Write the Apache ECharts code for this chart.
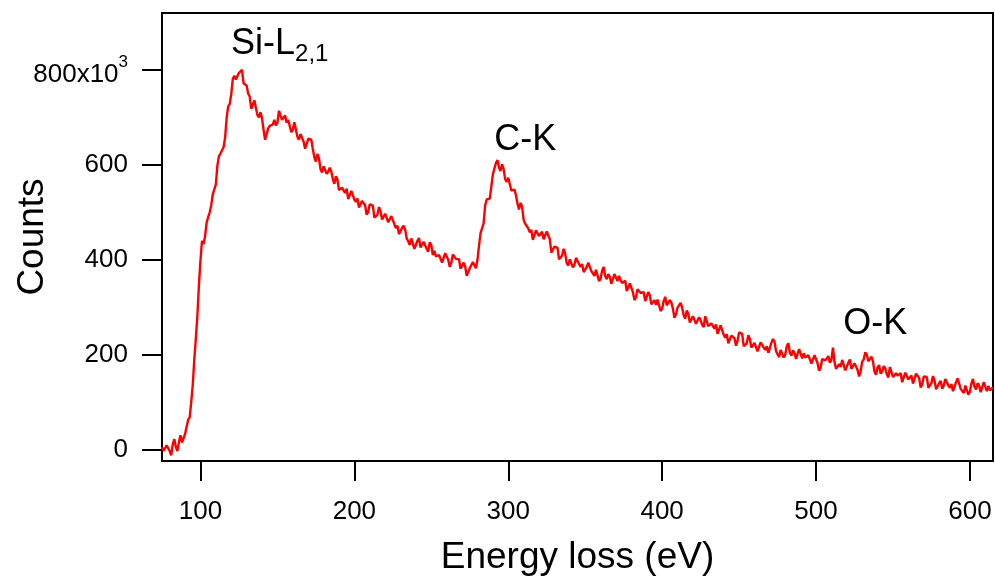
<!DOCTYPE html>
<html>
<head>
<meta charset="utf-8">
<script src="https://cdn.jsdelivr.net/npm/echarts@6/dist/echarts.min.js"></script>
<style>
html,body{margin:0;padding:0;background:#fff;}
#chart{width:995px;height:580px;}
</style>
</head>
<body>
<div id="chart"></div>
<script>
// Energy loss (eV)
const energy = [
75,76,77,78,79,80,81,82,83,84,85,86,87,88,89,90,91,92,93,94,
95,96,97,98,99,100,101,102,103,104,105,106,107,108,109,110,111,112,113,114,
115,116,117,118,119,120,121,122,123,124,125,126,127,128,129,130,131,132,133,134,
135,136,137,138,139,140,141,142,143,144,145,146,147,148,149,150,151,152,153,154,
155,156,157,158,159,160,161,162,163,164,165,166,167,168,169,170,171,172,173,174,
175,176,177,178,179,180,181,182,183,184,185,186,187,188,189,190,191,192,193,194,
195,196,197,198,199,200,201,202,203,204,205,206,207,208,209,210,211,212,213,214,
215,216,217,218,219,220,221,222,223,224,225,226,227,228,229,230,231,232,233,234,
235,236,237,238,239,240,241,242,243,244,245,246,247,248,249,250,251,252,253,254,
255,256,257,258,259,260,261,262,263,264,265,266,267,268,269,270,271,272,273,274,
275,276,277,278,279,280,281,282,283,284,285,286,287,288,289,290,291,292,293,294,
295,296,297,298,299,300,301,302,303,304,305,306,307,308,309,310,311,312,313,314,
315,316,317,318,319,320,321,322,323,324,325,326,327,328,329,330,331,332,333,334,
335,336,337,338,339,340,341,342,343,344,345,346,347,348,349,350,351,352,353,354,
355,356,357,358,359,360,361,362,363,364,365,366,367,368,369,370,371,372,373,374,
375,376,377,378,379,380,381,382,383,384,385,386,387,388,389,390,391,392,393,394,
395,396,397,398,399,400,401,402,403,404,405,406,407,408,409,410,411,412,413,414,
415,416,417,418,419,420,421,422,423,424,425,426,427,428,429,430,431,432,433,434,
435,436,437,438,439,440,441,442,443,444,445,446,447,448,449,450,451,452,453,454,
455,456,457,458,459,460,461,462,463,464,465,466,467,468,469,470,471,472,473,474,
475,476,477,478,479,480,481,482,483,484,485,486,487,488,489,490,491,492,493,494,
495,496,497,498,499,500,501,502,503,504,505,506,507,508,509,510,511,512,513,514,
515,516,517,518,519,520,521,522,523,524,525,526,527,528,529,530,531,532,533,534,
535,536,537,538,539,540,541,542,543,544,545,546,547,548,549,550,551,552,553,554,
555,556,557,558,559,560,561,562,563,564,565,566,567,568,569,570,571,572,573,574,
575,576,577,578,579,580,581,582,583,584,585,586,587,588,589,590,591,592,593,594,
595,596,597,598,599,600,601,602,603,604,605,606,607,608,609,610,611,612,613,614,
615
];
// Counts (x10^3)
const countsK = [
5,-3,-2,9,12,-3,-12,11,22,6,-3,16,30,15,12,33,48,63,68,101,
137,191,234,283,347,399,440,433,450,478,490,500,515,538,539,559,599,618,624,624,
637,657,699,723,728,749,781,788,780,778,794,798,800,772,770,767,750,744,718,722,
736,733,705,700,711,698,674,653,656,677,682,681,685,695,683,689,714,711,695,693,
704,689,695,691,669,674,690,688,659,653,665,661,649,634,644,655,652,653,634,616,
607,623,614,591,584,597,599,581,586,594,586,570,560,576,569,547,545,552,546,541,
550,528,528,545,543,527,522,529,510,508,524,524,515,495,501,517,519,514,489,487,
495,511,502,485,483,497,501,479,480,492,488,475,467,472,454,451,467,472,464,445,
439,431,445,443,423,426,440,446,426,423,438,435,423,417,437,431,410,419,407,404,
410,414,394,396,414,412,400,385,394,411,412,402,398,401,381,378,394,386,366,367,
382,378,395,398,382,400,430,456,456,477,515,527,530,529,554,580,592,604,610,594,
587,601,591,570,564,573,571,546,544,548,536,518,506,520,512,484,476,477,466,458,
463,442,442,462,463,450,448,459,443,443,460,456,443,415,413,428,429,425,401,400,
409,423,413,393,388,401,403,384,389,404,402,391,385,391,374,370,385,394,390,376,
375,366,379,376,355,360,377,385,366,359,370,364,349,347,370,370,355,366,357,351,
354,356,334,334,350,346,332,315,321,338,338,330,328,332,313,313,332,325,306,304,
315,305,316,313,292,297,313,322,304,301,315,310,297,278,285,299,298,309,299,283,
276,293,286,268,266,281,285,265,268,279,273,263,258,281,281,260,259,266,260,255,
264,244,246,262,259,242,236,243,224,223,240,242,235,219,229,247,250,244,218,216,
224,241,233,215,213,225,227,207,211,226,225,215,210,218,204,205,225,233,228,208,
201,195,210,211,194,200,218,224,204,198,209,204,191,189,212,209,192,203,194,192,
199,202,181,182,199,196,182,166,173,191,193,188,188,197,183,189,215,185,170,168,
180,174,189,187,167,169,183,190,170,167,182,179,168,154,165,185,190,205,200,186,
182,196,186,164,158,173,178,160,165,176,171,159,152,174,173,153,153,161,156,152,
161,142,144,162,162,148,146,156,139,141,160,160,151,131,137,154,156,153,130,130,
140,155,146,127,124,140,145,128,135,149,146,135,130,138,123,123,142,150,146,128,
124,119,135,135,116,122,140,149,132,127,140,135,121,119,142,140,123,134,125,123,
131
];
const xTicks = [100, 200, 300, 400, 500, 600];
const yTicks = [0, 200, 400, 600, 800];
const peakNames = ['Si-L', 'C-K', 'O-K'];
const peakSub = ['2,1', '', ''];

const FONT = '"Liberation Sans", Arial, Helvetica, sans-serif';
const chart = echarts.init(document.getElementById('chart'), null, {renderer: 'canvas'});
const seriesData = energy.map((e, i) => [e, countsK[i]]);
const annCoords = [[151.5, 850], [311, 652], [538.5, 264]];

const option = {
  animation: false,
  backgroundColor: '#ffffff',
  grid: {
    left: 162, right: 2, top: 13, bottom: 119,
    containLabel: false, outerBoundsMode: 'none',
    show: true, borderColor: '#000', borderWidth: 2, backgroundColor: 'transparent'
  },
  xAxis: {
    type: 'value', min: 75, max: 615,
    name: 'Energy loss (eV)', nameLocation: 'middle', nameGap: 78, nameMoveOverlap: false,
    nameTextStyle: {fontSize: 37, color: '#000', fontFamily: FONT},
    axisLine: {show: true, onZero: false, lineStyle: {color: '#000', width: 2}},
    axisTick: {show: true, customValues: xTicks, length: 20, inside: false, lineStyle: {color: '#000', width: 2}},
    axisLabel: {customValues: xTicks, fontSize: 26, color: '#000', fontFamily: FONT, margin: 38},
    splitLine: {show: false}
  },
  yAxis: {
    type: 'value', min: -24, max: 920,
    name: 'Counts', nameLocation: 'middle', nameGap: 111, nameRotate: 90, nameMoveOverlap: false,
    nameTextStyle: {fontSize: 37, color: '#000', fontFamily: FONT},
    axisLine: {show: true, onZero: false, lineStyle: {color: '#000', width: 2}},
    axisTick: {show: true, customValues: yTicks, length: 20, inside: false, lineStyle: {color: '#000', width: 2}},
    axisLabel: {
      customValues: yTicks, fontSize: 26, color: '#000', fontFamily: FONT, margin: 34,
      formatter: function (v) { return v === 800 ? '{b|800x10}{s|3}' : String(v); },
      rich: {
        b: {fontSize: 26, color: '#000', fontFamily: FONT, padding: [10, 0, 0, 0]},
        s: {fontSize: 17, color: '#000', fontFamily: FONT, verticalAlign: 'top', padding: [2, 0, 0, 0]}
      }
    },
    splitLine: {show: false}
  },
  series: [{
    type: 'line',
    data: seriesData,
    showSymbol: false,
    symbol: 'none',
    lineStyle: {color: '#ff0000', width: 2.4},
    itemStyle: {color: '#ff0000'},
    markPoint: {
      symbol: 'circle', symbolSize: 1,
      itemStyle: {color: 'transparent'},
      label: {
        show: true, position: 'inside', color: '#000', fontFamily: FONT, fontSize: 36,
        rich: {
          m: {fontSize: 36, color: '#000', fontFamily: FONT, padding: [0, 0, 5, 0]},
          sub: {fontSize: 24, color: '#000', fontFamily: FONT, verticalAlign: 'bottom'}
        }
      },
      data: peakNames.map((n, i) => ({
        coord: annCoords[i],
        value: n,
        label: {formatter: peakSub[i] ? '{m|' + n + '}{sub|' + peakSub[i] + '}' : n}
      }))
    }
  }]
};
chart.setOption(option);
</script>
</body>
</html>
